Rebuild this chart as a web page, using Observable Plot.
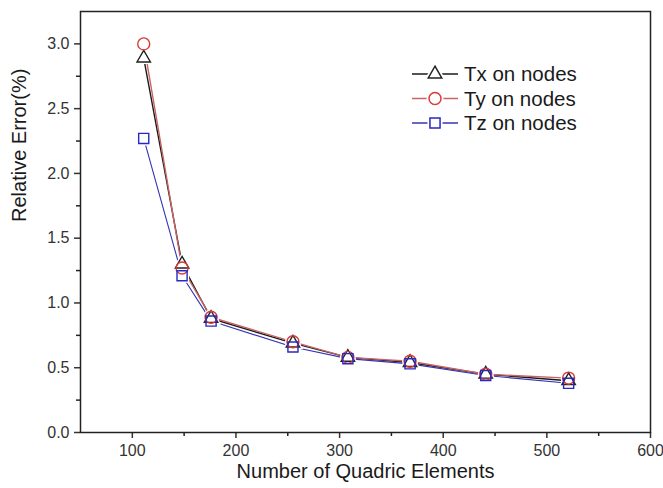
<!DOCTYPE html>
<html>
<head>
<meta charset="utf-8">
<script src="https://cdn.jsdelivr.net/npm/d3@7"></script>
<script src="https://cdn.jsdelivr.net/npm/@observablehq/plot@0.6"></script>
<style>
  html, body { margin: 0; padding: 0; background: #fff; }
  #chart { width: 663px; height: 488px; }
</style>
</head>
<body>
<div id="chart"></div>
<script>
// ---- data ----
const seriesNames = ["Tx on nodes", "Ty on nodes", "Tz on nodes"];
const elementCounts = [111, 148, 176, 255, 308, 368, 441, 521];
const txValues = [2.89, 1.30, 0.88, 0.69, 0.58, 0.54, 0.45, 0.40];
const tyValues = [3.00, 1.27, 0.89, 0.70, 0.58, 0.55, 0.45, 0.42];
const tzValues = [2.27, 1.21, 0.86, 0.66, 0.57, 0.53, 0.44, 0.38];
const xTicks = [100, 200, 300, 400, 500, 600];
const xMinorTicks = [150, 250, 350, 450, 550];
const yTicks = [0, 0.5, 1.0, 1.5, 2.0, 2.5, 3.0];
const yMinorTicks = [0.25, 0.75, 1.25, 1.75, 2.25, 2.75];
const xTitle = "Number of Quadric Elements";
const yTitle = "Relative Error(%)";

// ---- styles ----
const seriesValues = [txValues, tyValues, tzValues];
const lineColors = ["#1a1a1a", "#c86464", "#3434b4"];
const markColors = ["#222222", "#d83a3a", "#2828c4"];
const symbols = ["triangle", "circle", "square"];
const d3Symbols = [d3.symbolTriangle, d3.symbolCircle, d3.symbolSquare];
const radii = [5.0, 6.0, 5.7];

const rowsBySeries = seriesNames.map((name, i) =>
  elementCounts.map((x, j) => ({series: name, x, y: seriesValues[i][j]}))
);

const lineMarks = rowsBySeries.map((rows, i) =>
  Plot.line(rows, {x: "x", y: "y", stroke: lineColors[i], strokeWidth: i === 2 ? 1.1 : 1.4})
);
const haloMarks = rowsBySeries.map((rows, i) =>
  Plot.dot(rows, {x: "x", y: "y", symbol: symbols[i], r: radii[i], fill: "white", stroke: "white", strokeWidth: 4})
);
const dotMarks = rowsBySeries.map((rows, i) =>
  Plot.dot(rows, {x: "x", y: "y", symbol: symbols[i], r: radii[i], fill: "none", stroke: markColors[i], strokeWidth: 1.4})
);

function legendMark(index, scales, values, dims) {
  const g = d3.create("svg:g");
  const xRight = dims.width - dims.marginRight;
  seriesNames.forEach((name, i) => {
    const y = dims.marginTop + 63 + i * 24.5;
    const x0 = xRight - 238;
    g.append("line")
      .attr("x1", x0).attr("x2", x0 + 46)
      .attr("y1", y).attr("y2", y)
      .attr("stroke", lineColors[i]).attr("stroke-width", 1.3);
    g.append("path")
      .attr("transform", `translate(${x0 + 23},${y})`)
      .attr("d", d3.symbol(d3Symbols[i], Math.PI * radii[i] * radii[i])())
      .attr("fill", "white").attr("stroke", "white").attr("stroke-width", 5);
    g.append("path")
      .attr("transform", `translate(${x0 + 23},${y})`)
      .attr("d", d3.symbol(d3Symbols[i], Math.PI * radii[i] * radii[i])())
      .attr("fill", "none").attr("stroke", markColors[i]).attr("stroke-width", 1.5);
    g.append("text")
      .attr("x", x0 + 52).attr("y", y)
      .attr("dy", "0.35em")
      .attr("text-anchor", "start")
      .attr("fill", "#1a1a1a")
      .attr("font-size", 20.5)
      .text(name);
  });
  return g.node();
}

const chart = Plot.plot({
  width: 663,
  height: 488,
  marginLeft: 80,
  marginRight: 13,
  marginTop: 11,
  marginBottom: 56,
  style: {fontFamily: "'Liberation Sans', Arial, sans-serif", fontSize: "16px", background: "white", color: "#222"},
  x: {domain: [50, 600]},
  y: {domain: [0, 3.25]},
  marks: [
    Plot.axisX({ticks: xTicks, tickSize: 6, tickPadding: 6, tickFormat: d => String(d), label: null, strokeWidth: 1.5, color: "#333", fontSize: 16}),
    Plot.axisX({ticks: xMinorTicks, tickSize: 4, tickFormat: () => "", label: null, strokeWidth: 1.5, color: "#222"}),
    Plot.axisY({ticks: yTicks, tickSize: 6, tickPadding: 5, tickFormat: d3.format(".1f"), label: null, strokeWidth: 1.5, color: "#333", fontSize: 16}),
    Plot.axisY({ticks: yMinorTicks, tickSize: 4, tickFormat: () => "", label: null, strokeWidth: 1.5, color: "#222"}),
    Plot.text([xTitle], {text: d => d, frameAnchor: "bottom", dy: 45, fontSize: 20, fill: "#1a1a1a"}),
    Plot.text([yTitle], {text: d => d, frameAnchor: "left", dx: -61, rotate: -90, fontSize: 20, fill: "#1a1a1a"}),
    ...lineMarks,
    ...haloMarks,
    ...dotMarks,
    legendMark,
    Plot.frame({stroke: "#222", strokeWidth: 1.5})
  ]
});
document.getElementById("chart").appendChild(chart);
</script>
</body>
</html>
